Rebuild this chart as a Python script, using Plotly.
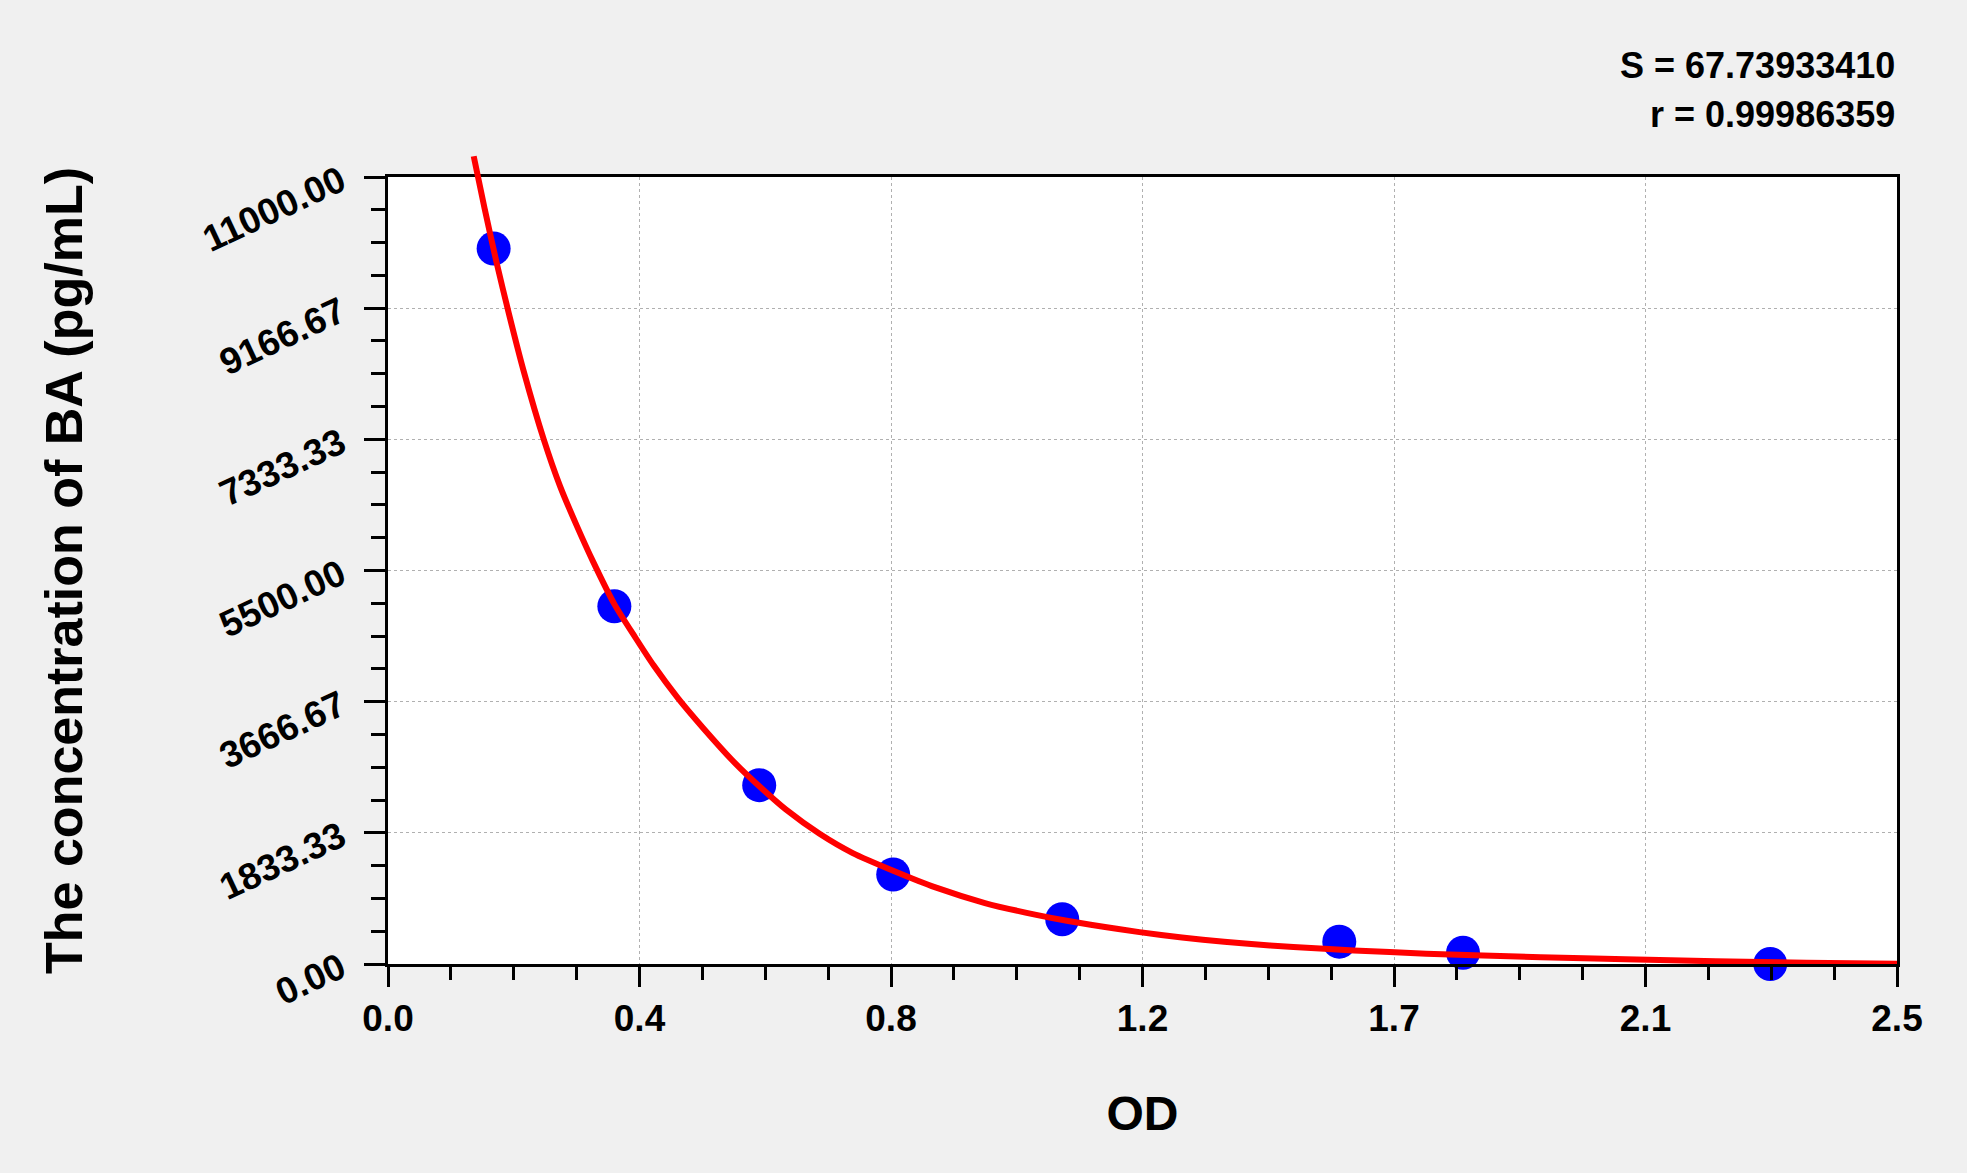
import plotly.graph_objects as go

# ---- data ----
od_values = [0.175, 0.375, 0.615, 0.837, 1.117, 1.576, 1.781, 2.290]
conc_values = [10000, 5000, 2500, 1250, 625, 312.5, 156.25, 0]

curve_od = [0.142, 0.160, 0.180, 0.200, 0.225, 0.258, 0.285, 0.313, 0.340, 0.375,
            0.410, 0.440, 0.480, 0.522, 0.577, 0.617, 0.659, 0.715, 0.770, 0.838,
            0.907, 0.989, 1.072, 1.127, 1.210, 1.281, 1.350, 1.420, 1.500, 1.600,
            1.720, 1.800, 1.910, 2.050, 2.200, 2.350, 2.500]
curve_conc = [11290, 10560, 9800, 9100, 8280, 7333, 6680, 6120, 5620, 5030,
              4560, 4175, 3720, 3300, 2790, 2470, 2160, 1820, 1550, 1300,
              1070, 852, 690, 600, 488, 405, 340, 285, 238, 190,
              145, 122, 95, 65, 38, 18, 5]

x_tick_vals = [0.0, 0.41667, 0.83333, 1.25, 1.66667, 2.08333, 2.5]
x_tick_text = ["0.0", "0.4", "0.8", "1.2", "1.7", "2.1", "2.5"]
y_tick_vals = [0, 1833.33, 3666.67, 5500, 7333.33, 9166.67, 11000]
y_tick_text = ["0.00", "1833.33", "3666.67", "5500.00", "7333.33", "9166.67", "11000.00"]
x_range = [0, 2.5]
y_range = [0, 11000]
x_minor_step = 0.1041667
y_minor_step = 458.3333
stats_lines = ["S = 67.73933410", "r = 0.99986359"]
x_title = "OD"
y_title = "The concentration of BA (pg/mL)"

# ---- layout geometry ----
W, H = 1967, 1173
ml, mr, mt, mb = 388, 70, 147, 209
plot_h = H - mt - mb
main_h = 787
dom_top = main_h / plot_h

FONT = "Liberation Sans, Arial, sans-serif"
tickfont = dict(family=FONT, size=37, color="black", weight="bold")

fig = go.Figure()
fig.add_trace(go.Scatter(
    x=od_values, y=conc_values, mode="markers",
    marker=dict(color="#0000FF", size=34, line=dict(width=0)),
    cliponaxis=False, xaxis="x", yaxis="y", showlegend=False, hoverinfo="skip"))
fig.add_trace(go.Scatter(
    x=curve_od, y=curve_conc, mode="lines",
    line=dict(color="#FF0000", width=6, shape="spline", smoothing=0.7),
    xaxis="x2", yaxis="y2", showlegend=False, hoverinfo="skip"))

common = dict(showline=True, linecolor="black", linewidth=3, mirror=True,
              ticks="outside", tickcolor="black", tickwidth=3,
              showgrid=True, gridcolor="#B0B0B0", griddash="dot", gridwidth=1,
              zeroline=False, tickfont=tickfont, tickmode="array")

fig.update_layout(
    width=W, height=H,
    margin=dict(l=ml, r=mr, t=mt, b=mb, pad=0),
    paper_bgcolor="#F0F0F0", plot_bgcolor="rgba(0,0,0,0)",
    showlegend=False,
    xaxis=dict(common, domain=[0, 1], anchor="y", range=x_range,
               tickvals=x_tick_vals, ticktext=x_tick_text, ticklen=20,
               ticklabelstandoff=0,
               minor=dict(tickmode="linear", tick0=0, dtick=x_minor_step, ticks="outside",
                          ticklen=13, tickwidth=3, tickcolor="black", showgrid=False),
               title=dict(text=x_title, standoff=58,
                          font=dict(family=FONT, size=48, color="black", weight="bold"))),
    yaxis=dict(common, domain=[0, dom_top], anchor="x", range=y_range,
               tickvals=y_tick_vals, ticktext=y_tick_text, ticklen=21, tickangle=-25,
               ticklabelstandoff=16,
               minor=dict(tickmode="linear", tick0=0, dtick=y_minor_step, ticks="outside",
                          ticklen=14, tickwidth=3, tickcolor="black", showgrid=False),
               title=dict(text=y_title, standoff=98,
                          font=dict(family=FONT, size=52, color="black", weight="bold"))),
    xaxis2=dict(domain=[0, 1], anchor="y2", matches="x", visible=False),
    yaxis2=dict(domain=[0, 1], anchor="x2", range=[0, y_range[1] / dom_top], visible=False),
    shapes=[dict(type="rect", xref="x domain", yref="y domain", x0=0, x1=1, y0=0, y1=1,
                 fillcolor="white", line=dict(width=0), layer="below")],
    annotations=[
        dict(text=stats_lines[0], xref="x domain", yref="y domain", x=1.0, y=(964 - 66) / main_h,
             xanchor="right", yanchor="middle", showarrow=False,
             font=dict(family=FONT, size=36, color="black", weight="bold")),
        dict(text=stats_lines[1], xref="x domain", yref="y domain", x=1.0, y=(964 - 114) / main_h,
             xanchor="right", yanchor="middle", showarrow=False,
             font=dict(family=FONT, size=36, color="black", weight="bold")),
    ],
)

fig.write_html("out.html", config={"displayModeBar": False},
               post_script="document.body.style.margin='0';document.body.style.overflow='hidden';"
                           "document.body.style.background='#F0F0F0';")
